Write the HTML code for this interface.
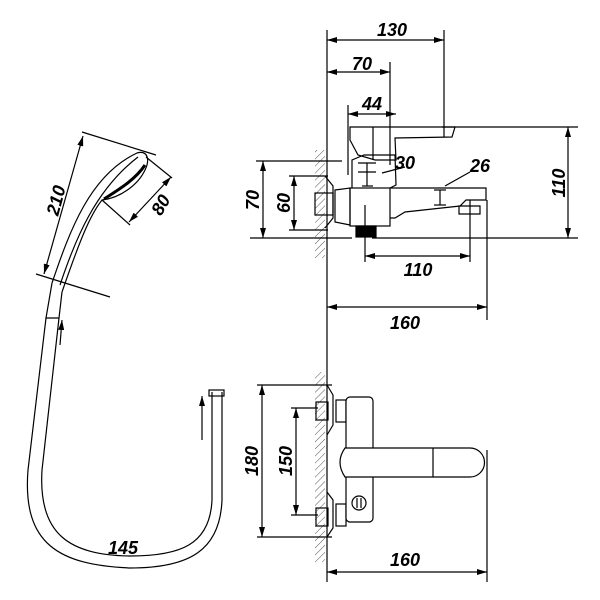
<!DOCTYPE html>
<html><head><style>body{margin:0;background:#fff}svg{display:block}</style></head><body>
<svg width="600" height="600" viewBox="0 0 600 600" xmlns="http://www.w3.org/2000/svg">
<defs>
<marker id="a" viewBox="0 0 10 6" refX="10" refY="3" markerWidth="10" markerHeight="6" orient="auto-start-reverse" markerUnits="userSpaceOnUse"><path d="M0,0L10,3L0,6z" fill="#000"/></marker>
<pattern id="h" width="5" height="5" patternUnits="userSpaceOnUse" patternTransform="rotate(45)"><line x1="0" y1="0" x2="0" y2="5" stroke="#555" stroke-width="1"/></pattern>
</defs>
<g fill="none" stroke="#000" stroke-width="1.2">
<line x1="327" y1="30" x2="327" y2="582"/>
<rect x="315" y="150" width="10" height="108" fill="url(#h)" stroke="none"/>
<rect x="315" y="372" width="10" height="190" fill="url(#h)" stroke="none"/>
<line x1="444" y1="30" x2="444" y2="137"/>
<line x1="390" y1="62" x2="390" y2="165"/>
<line x1="348" y1="105" x2="348" y2="175"/>
<line x1="327" y1="40" x2="444" y2="40" marker-start="url(#a)" marker-end="url(#a)"/>
<line x1="327" y1="72" x2="390" y2="72" marker-start="url(#a)" marker-end="url(#a)"/>
<line x1="348" y1="114" x2="396" y2="114" marker-start="url(#a)" marker-end="url(#a)"/>
<line x1="442" y1="127" x2="578" y2="127"/>
<line x1="568" y1="127" x2="568" y2="238" marker-start="url(#a)" marker-end="url(#a)"/>
<line x1="250" y1="238" x2="352" y2="238"/>
<line x1="372" y1="238" x2="578" y2="238"/>
<line x1="256" y1="161" x2="342" y2="161"/>
<line x1="263" y1="161" x2="263" y2="238" marker-start="url(#a)" marker-end="url(#a)"/>
<line x1="289" y1="176" x2="328" y2="176"/>
<line x1="289" y1="230" x2="328" y2="230"/>
<line x1="294" y1="176" x2="294" y2="230" marker-start="url(#a)" marker-end="url(#a)"/>
<path d="M325,176 L333,186 L333,218 L325,228"/>
<rect x="315" y="193" width="18" height="22"/>
<path d="M335,190 L350,188 L350,225 L335,222 Z"/>
<rect x="350" y="188" width="40" height="38"/>
<rect x="356" y="226" width="20" height="11" fill="#000"/>
<path d="M390,188 L486,188 L486,200 L466,200 L460,206 L405,212 L395,218 L390,218"/>
<path d="M459,206 L480,206 L480,214 L459,214 Z"/>
<path d="M352,188 L352,160 L364,155 L395,155 L396,185 L390,188"/>
<line x1="358" y1="163" x2="376" y2="163"/><line x1="358" y1="172" x2="376" y2="172"/>
<line x1="367" y1="163" x2="367" y2="186"/><line x1="362" y1="186" x2="373" y2="186"/>
<path d="M350,127 L455,127 L452,137 L395,138 L396,160 L375,160 L358,155 L350,140 Z"/>
<line x1="373" y1="127" x2="373" y2="160"/>
<line x1="440" y1="190" x2="440" y2="205"/><line x1="434" y1="190" x2="446" y2="190"/><line x1="434" y1="205" x2="446" y2="205"/>
<line x1="382" y1="173" x2="405" y2="167"/>
<line x1="445" y1="186" x2="470" y2="172"/>
<line x1="365" y1="205" x2="365" y2="262"/>
<line x1="470" y1="200" x2="470" y2="262"/>
<line x1="487" y1="200" x2="487" y2="320"/>
<line x1="365" y1="256" x2="470" y2="256" marker-start="url(#a)" marker-end="url(#a)"/>
<line x1="327" y1="307" x2="487" y2="307" marker-start="url(#a)" marker-end="url(#a)"/>
<line x1="257" y1="385" x2="332" y2="385"/>
<line x1="257" y1="537" x2="332" y2="537"/>
<line x1="262" y1="385" x2="262" y2="537" marker-start="url(#a)" marker-end="url(#a)"/>
<line x1="291" y1="408" x2="318" y2="408"/>
<line x1="291" y1="515" x2="318" y2="515"/>
<line x1="296" y1="408" x2="296" y2="515" marker-start="url(#a)" marker-end="url(#a)"/>
<path d="M327,385 L333,395 L333,425 L327,435"/>
<path d="M327,492 L333,500 L333,528 L327,537"/>
<rect x="316" y="402" width="12" height="18"/><rect x="316" y="508" width="12" height="18"/>
<rect x="336" y="400" width="10" height="22"/><rect x="336" y="504" width="10" height="22"/>
<rect x="346" y="397" width="27" height="125" rx="4" fill="#fff"/>
<path d="M345,448 L470,448 A14.5,14.5 0 0 1 470,477 L345,477 Q335,462 345,448 Z" fill="#fff"/>
<line x1="433" y1="448" x2="433" y2="477"/>
<circle cx="359" cy="503" r="7"/><line x1="357" y1="498" x2="357" y2="508"/><line x1="361" y1="498" x2="361" y2="508"/>
<line x1="487" y1="450" x2="487" y2="582"/>
<line x1="327" y1="572" x2="487" y2="572" marker-start="url(#a)" marker-end="url(#a)"/>
<line x1="82" y1="132" x2="156" y2="155"/>
<line x1="36" y1="274" x2="110" y2="297"/>
<line x1="83" y1="136" x2="44" y2="274" marker-start="url(#a)" marker-end="url(#a)"/>
<line x1="146" y1="157" x2="172" y2="178"/>
<line x1="102" y1="200" x2="130" y2="225"/>
<line x1="171" y1="177" x2="129" y2="222" marker-start="url(#a)" marker-end="url(#a)"/>
<path d="M52,283 C70,230 90,175 137,153 C148,150 150,160 145,170 C138,185 120,198 102,200 C90,215 80,240 62,292"/>
<path d="M60,285 C75,240 95,190 138,157"/>
<path d="M104,199 C118,190 135,180 145,165" stroke-width="3"/>
<path d="M52,283 L46,318 L59,318 L62,292"/>
<path d="M46,318 L28,470 C22,545 60,565 130,568 C190,568 220,550 222,500 L222,392"/>
<path d="M59,318 L42,470 C38,535 70,555 130,556 C180,556 210,545 212,500 L212,392"/>
<rect x="209" y="390" width="15" height="6"/>
<line x1="60" y1="345" x2="62" y2="320" marker-end="url(#a)"/>
<line x1="202" y1="440" x2="202" y2="396" marker-end="url(#a)"/>
</g>
<g font-family="Liberation Sans, sans-serif" font-size="18" font-weight="bold" font-style="italic" fill="#000" text-anchor="middle">
<text x="392" y="36">130</text>
<text x="362" y="70">70</text>
<text x="372" y="110">44</text>
<text x="405" y="169">30</text>
<text x="480" y="172">26</text>
<text x="418" y="276">110</text>
<text x="405" y="329">160</text>
<text x="405" y="566">160</text>
<text x="123" y="554">145</text>
<text transform="translate(565,183) rotate(-90)">110</text>
<text transform="translate(259,200) rotate(-90)">70</text>
<text transform="translate(290,203) rotate(-90)">60</text>
<text transform="translate(258,461) rotate(-90)">180</text>
<text transform="translate(292,461) rotate(-90)">150</text>
<text transform="translate(62,202) rotate(-75)">210</text>
<text transform="translate(166,208) rotate(-60)">80</text>
</g>
</svg>
</body></html>
